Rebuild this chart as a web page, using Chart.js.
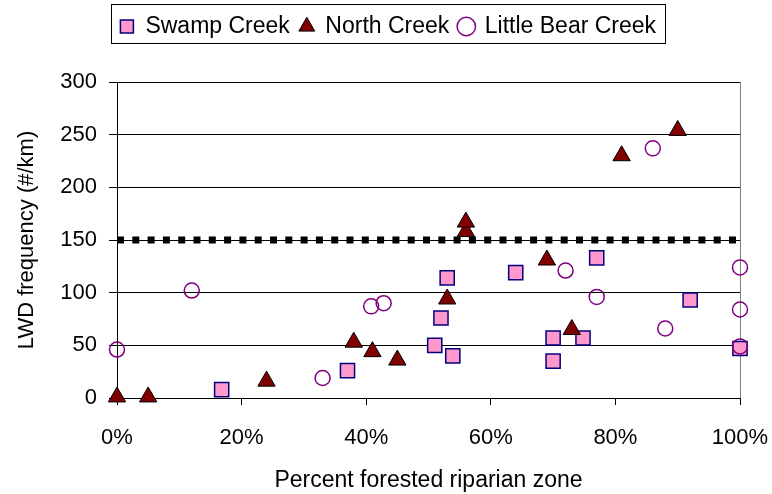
<!DOCTYPE html>
<html>
<head>
<meta charset="utf-8">
<script src="https://cdn.jsdelivr.net/npm/chart.js@4"></script>
<style>
    body { margin: 0; background: #fff; }
</style>
</head>
<body>
<canvas id="lwd-canvas" width="772" height="494"></canvas>
<script>
// values (percent forested, LWD pieces per km)
const swampX = [16.8, 37, 51, 52, 53, 53.9, 64, 70, 70, 74.8, 77, 92, 100];
const swampY = [8, 26, 50, 76, 114, 40, 119, 57, 35, 57, 133, 93, 47];

const northX = [0, 5, 24, 38, 41, 45, 53, 56, 56, 69, 73, 81, 90];
const northY = [1, 1, 16, 53, 44, 36, 94, 158, 167, 131, 65, 230, 254];

const bearX = [0, 12, 33, 40.8, 42.8, 72, 77, 86, 88, 100, 100, 100];
const bearY = [46, 102, 19, 87, 90, 121, 96, 237, 66, 124, 84, 49];

const targetX = [0, 100];
const targetY = [150, 150];

const xTicks = [0, 20, 40, 60, 80, 100];
const yTicks = [0, 50, 100, 150, 200, 250, 300];

const FONT = "'Liberation Sans', Arial, sans-serif";

function toPoints(xs, ys) {
    let pts = [];
    for (let i = 0; i < xs.length; i++) {
        pts.push({ x: xs[i], y: ys[i] });
    }
    return pts;
}

// push the plot area down below the legend, nudge the legend right, draw its box
const legendBox = {
    id: 'legendBox',
    beforeLayout(chart) {
        let lg = chart.legend;
        if (lg && !lg._gapPatched) {
            let fit = lg.fit;
            lg.fit = function () {
                fit.call(this);
                this.height += 34;
            };
            lg._gapPatched = true;
        }
    },
    afterLayout(chart) {
        chart.legend.left += 18;
        chart.legend.right += 18;
    },
    afterDraw(chart) {
        let boxes = chart.legend.legendHitBoxes;
        if (!boxes || boxes.length === 0) return;
        let left = boxes[0].left - 9;
        let right = boxes[boxes.length - 1].left + boxes[boxes.length - 1].width + 9;
        let ctx = chart.ctx;
        ctx.save();
        ctx.strokeStyle = '#000';
        ctx.lineWidth = 1;
        ctx.strokeRect(Math.round(left) + 0.5, 4.5, Math.round(right - left), 39);
        ctx.restore();
    }
};

function drawChart() {
    let canvas = document.getElementById('lwd-canvas');

    const data = {
        datasets: [{
            label: 'Swamp Creek',
            data: toPoints(swampX, swampY),
            pointStyle: 'rect',
            pointRadius: 10,
            pointHoverRadius: 10,
            backgroundColor: '#FF99CC',
            borderColor: '#000080',
            borderWidth: 1.5,
            clip: false,
            order: 3
        }, {
            label: 'North Creek',
            data: toPoints(northX, northY),
            pointStyle: 'triangle',
            pointRadius: 10,
            pointHoverRadius: 10,
            backgroundColor: '#800000',
            borderColor: '#000',
            borderWidth: 1,
            clip: false,
            order: 2
        }, {
            label: 'Little Bear Creek',
            data: toPoints(bearX, bearY),
            pointStyle: 'circle',
            pointRadius: 7.5,
            pointHoverRadius: 7.5,
            backgroundColor: 'rgba(0,0,0,0)',
            borderColor: '#800080',
            borderWidth: 1.5,
            clip: false,
            order: 1
        }, {
            type: 'line',
            label: 'target',
            data: toPoints(targetX, targetY),
            borderColor: '#000',
            borderWidth: 7,
            borderDash: [7, 8.3],
            borderCapStyle: 'butt',
            pointRadius: 0,
            fill: false,
            order: 4
        }]
    };

    const config = {
        type: 'scatter',
        data: data,
        options: {
            responsive: false,
            animation: false,
            layout: {
                padding: { top: 5, right: 32, left: 0, bottom: 0 }
            },
            plugins: {
                legend: {
                    position: 'top',
                    labels: {
                        usePointStyle: true,
                        boxWidth: 14,
                        boxHeight: 13,
                        padding: 10,
                        color: '#000',
                        font: { family: FONT, size: 23 },
                        filter: (item) => item.datasetIndex !== 3,
                        sort: (a, b) => a.datasetIndex - b.datasetIndex
                    }
                },
                tooltip: { enabled: false }
            },
            scales: {
                x: {
                    type: 'linear',
                    min: 0,
                    max: 100,
                    afterFit: (scale) => {
                        scale.height = 96;
                        scale.paddingLeft = 0;
                        scale.paddingRight = 0;
                    },
                    afterBuildTicks: (scale) => { scale.ticks = xTicks.map(v => ({ value: v })); },
                    border: { color: '#000', width: 1 },
                    grid: {
                        drawOnChartArea: true,
                        color: (ctx) => (ctx.tick && ctx.tick.value === 100) ? '#808080' : 'rgba(0,0,0,0)',
                        tickColor: '#000',
                        tickLength: 7,
                        lineWidth: 1
                    },
                    ticks: {
                        padding: 20,
                        color: '#000',
                        font: { family: FONT, size: 22 },
                        callback: (v) => v + '%'
                    },
                    title: {
                        display: true,
                        text: 'Percent forested riparian zone',
                        color: '#000',
                        font: { family: FONT, size: 23 },
                        padding: { top: 0, bottom: 0 }
                    }
                },
                y: {
                    min: 0,
                    max: 300,
                    afterFit: (scale) => { scale.width = 117; },
                    afterBuildTicks: (scale) => { scale.ticks = yTicks.map(v => ({ value: v })); },
                    border: { color: '#000', width: 1 },
                    grid: {
                        color: '#000',
                        tickColor: '#000',
                        tickLength: 8,
                        lineWidth: 1
                    },
                    ticks: {
                        padding: 12,
                        color: '#000',
                        font: { family: FONT, size: 22 }
                    },
                    title: {
                        display: true,
                        text: 'LWD frequency (#/km)',
                        color: '#000',
                        font: { family: FONT, size: 22 },
                        padding: { top: 14, bottom: 0 }
                    }
                }
            }
        },
        plugins: [legendBox]
    };

    new Chart(canvas, config);
}

drawChart();
</script>
</body>
</html>
